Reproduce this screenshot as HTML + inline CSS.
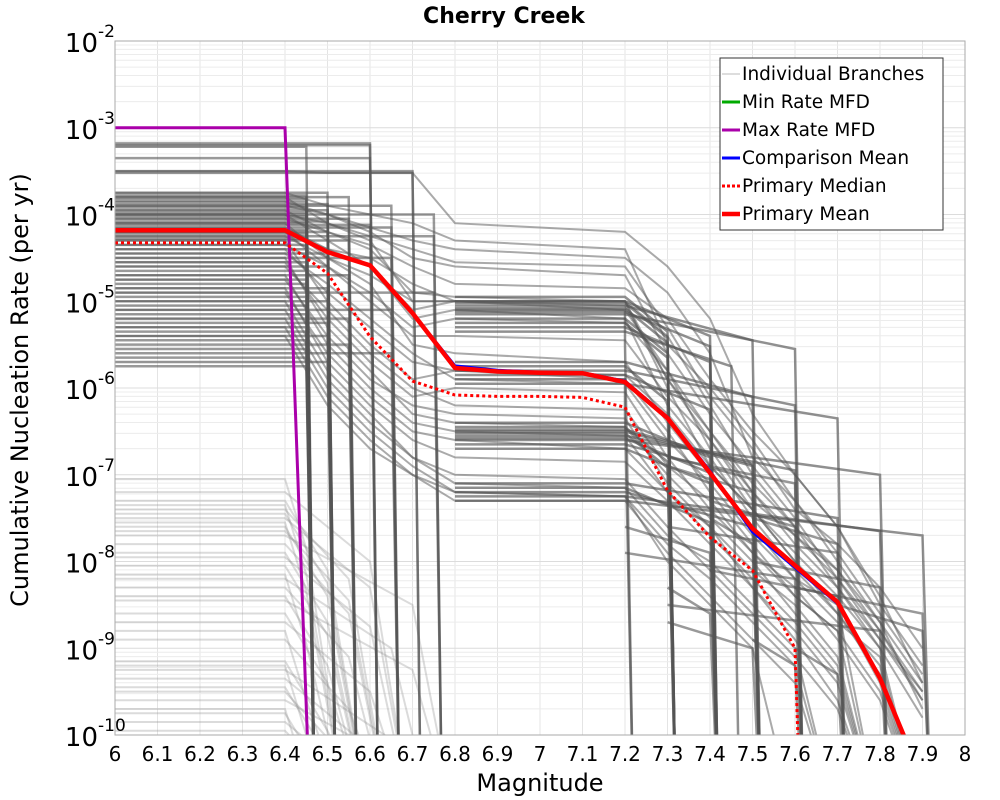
<!DOCTYPE html>
<html><head><meta charset="utf-8">
<style>
html,body{margin:0;padding:0;background:#fff;width:1000px;height:800px;overflow:hidden;}
svg{display:block;}
svg text{font-family:"DejaVu Sans","Liberation Sans",sans-serif;}
</style></head>
<body>
<svg id="chart" width="1000" height="800" viewBox="0 0 1000 800" xmlns="http://www.w3.org/2000/svg">
<defs><clipPath id="plotclip"><rect x="115" y="41" width="850" height="694"/></clipPath></defs>
<rect x="0" y="0" width="1000" height="800" fill="#fff"/>
<text x="504" y="23" text-anchor="middle" font-size="22" font-weight="bold">Cherry Creek</text>
<g id="grid"></g>
<g id="branches" clip-path="url(#plotclip)"></g>
<g id="mainlines" clip-path="url(#plotclip)"></g>
<rect x="115" y="41" width="850" height="694" fill="none" stroke="#aaa" stroke-width="1"/>
<g id="xticks"></g>
<g id="yticks"></g>
<text x="540" y="791" text-anchor="middle" font-size="24">Magnitude</text>
<text transform="translate(28,390) rotate(-90)" text-anchor="middle" font-size="24">Cumulative Nucleation Rate (per yr)</text>
<g id="legend">
<rect x="720" y="58" width="223" height="172" fill="#fff" stroke="#333" stroke-width="1"/>
</g>
</svg>
<script>
// ---- data ----
const xTicks = [6,6.1,6.2,6.3,6.4,6.5,6.6,6.7,6.8,6.9,7,7.1,7.2,7.3,7.4,7.5,7.6,7.7,7.8,7.9,8];
const xTickLabels = ["6","6.1","6.2","6.3","6.4","6.5","6.6","6.7","6.8","6.9","7","7.1","7.2","7.3","7.4","7.5","7.6","7.7","7.8","7.9","8"];
const yTickExps = [-2,-3,-4,-5,-6,-7,-8,-9,-10];
const meanMags = [6,6.4,6.5,6.6,6.7,6.8,6.9,7,7.1,7.2,7.3,7.4,7.5,7.6,7.7,7.8,7.9];
const primaryMean = [6.6e-5,6.6e-5,3.7e-5,2.6e-5,7.3e-6,1.7e-6,1.55e-6,1.5e-6,1.48e-6,1.17e-6,4.5e-7,1.05e-7,2.4e-8,9e-9,3.4e-9,4.5e-10,3e-11];
const comparisonMean = [6.6e-5,6.6e-5,3.7e-5,2.6e-5,7.3e-6,1.8e-6,1.6e-6,1.52e-6,1.5e-6,1.2e-6,4.6e-7,1.1e-7,2.2e-8,8.5e-9,3.3e-9,4.6e-10,3e-11];
const medianMags = [6,6.4,6.5,6.6,6.7,6.8,6.9,7,7.1,7.2,7.3,7.4,7.5,7.6,7.62];
const primaryMedian = [4.7e-5,4.7e-5,2.1e-5,3.9e-6,1.2e-6,8.3e-7,8e-7,8e-7,7.8e-7,6e-7,6.6e-8,1.9e-8,7.9e-9,1e-9,1e-12];
const maxMags = [6,6.4,6.46];
const maxRate = [1e-3,1e-3,1e-11];
const minMags = [6,6.4,6.41];
const minRate = [1e-12,1e-12,1e-12];
// early-drop branches: [log10 plateau rate, drop magnitude]
const earlyDrops = [[-3.18,6.6],[-3.2,6.6],[-3.22,6.45],[-3.35,6.6],[-3.5,6.7],[-3.52,6.7],[-3.75,6.5],[-3.78,6.45],[-3.8,6.55],[-3.82,6.45],[-3.85,6.45],[-3.88,6.5],[-3.9,6.65],[-3.92,6.45],[-3.95,6.5],[-3.98,6.45],[-4.0,6.75],[-4.02,6.45],[-4.05,6.55],[-4.08,6.5],[-4.1,6.45],[-4.12,6.6],[-4.15,6.65],[-4.18,6.45],[-4.2,6.5],[-4.22,6.45],[-4.25,6.75],[-4.28,6.45],[-4.3,6.55],[-4.35,6.45],[-4.4,6.45],[-4.45,6.5],[-4.5,6.65],[-4.55,6.45],[-4.6,6.5],[-4.65,6.45],[-4.7,6.55],[-4.75,6.45],[-4.8,6.45],[-4.85,6.5],[-4.9,6.75],[-4.95,6.45],[-5.0,6.5],[-5.05,6.45],[-5.1,6.65],[-5.15,6.45],[-5.2,6.55],[-5.25,6.5],[-5.3,6.45],[-5.35,6.45],[-5.4,6.5],[-5.45,6.45],[-5.5,6.55],[-5.55,6.45],[-5.6,6.65],[-5.65,6.45],[-5.7,6.5],[-5.75,6.45]];
// low band plateaus: [log10 rate, drop magnitude]
const lowBand = [[-7.05,6.45],[-7.2,6.6],[-7.3,6.5],[-7.35,6.45],[-7.4,6.55],[-7.45,6.5],[-7.5,6.6],[-7.55,6.45],[-7.6,6.5],[-7.65,6.55],[-7.7,6.7],[-7.8,6.55],[-7.9,6.5],[-7.95,6.6],[-8.05,6.5],[-8.15,6.45],[-8.2,6.65],[-8.3,6.55],[-8.4,6.5],[-8.45,6.7],[-8.6,6.5],[-8.7,6.6],[-8.8,6.45],[-8.9,6.55],[-9.15,6.5],[-9.2,6.45],[-9.25,6.65],[-9.35,6.6],[-9.45,6.5],[-9.5,6.55],[-9.6,6.7],[-9.7,6.45],[-9.75,6.5],[-9.85,6.6],[-9.95,6.55]];
// full branches: log10 rates at these magnitudes
const branchMags = [6,6.4,6.5,6.6,6.7,6.8,7.2,7.3,7.4,7.5,7.6,7.7,7.8,7.9];
const fullBranches = [
 [-3.5,-3.5,-3.52,-3.52,-3.52,-4.1,-4.2,-4.6,-5.2,-6.3,-7.0,-7.6,-8.4,-9.4],
 [-3.75,-3.75,-3.9,-4.0,-4.1,-4.3,-4.4,-5.5,-6.0,-6.6,-7.3,-8.0,-8.7,-9.4],
 [-3.8,-3.8,-4.1,-4.3,-5.0,-5.0,-5.1,-5.8,-6.5,-7.2,-7.8,-8.3,-9.0,-11],
 [-3.9,-3.9,-4.0,-4.2,-4.5,-4.6,-4.7,-5.6,-6.3,-6.9,-7.5,-8.2,-8.8,-9.5],
 [-4.0,-4.0,-4.3,-4.6,-5.2,-5.1,-5.2,-6.2,-6.8,-7.5,-8.1,-8.6,-9.2,-11],
 [-4.1,-4.1,-4.5,-4.8,-5.5,-5.6,-5.7,-6.4,-7.0,-7.6,-8.2,-8.5,-9.4,-11],
 [-4.2,-4.2,-4.4,-4.5,-4.8,-5.0,-5.0,-5.9,-6.6,-7.3,-7.7,-8.2,-8.9,-9.6],
 [-4.3,-4.3,-5.0,-5.5,-5.9,-5.8,-5.9,-6.5,-7.2,-7.8,-8.4,-8.8,-11,-11],
 [-4.4,-4.4,-4.9,-5.3,-5.7,-5.8,-5.85,-6.3,-6.9,-7.4,-8.0,-8.6,-9.3,-11],
 [-4.5,-4.5,-5.3,-5.8,-6.3,-6.4,-6.45,-7.0,-7.5,-8.0,-8.6,-9.2,-11,-11],
 [-4.6,-4.6,-5.1,-5.6,-6.0,-6.2,-6.25,-6.9,-7.3,-7.9,-8.3,-8.9,-9.6,-11],
 [-4.7,-4.7,-5.5,-6.0,-6.4,-6.5,-6.55,-7.2,-7.6,-8.1,-8.5,-9.1,-11,-11],
 [-4.9,-4.9,-5.6,-6.1,-6.5,-6.6,-6.7,-7.2,-7.7,-8.2,-8.7,-9.3,-11,-11],
 [-5.0,-5.0,-5.8,-6.3,-6.8,-7.1,-7.15,-7.7,-8.0,-8.5,-9.0,-11,-11,-11],
 [-5.2,-5.2,-6.0,-6.5,-6.9,-7.2,-7.25,-7.8,-8.2,-8.7,-9.2,-11,-11,-11],
 [-4.25,-4.25,-4.5,-4.7,-5.0,-5.0,-5.05,-5.9,-6.5,-7.1,-7.6,-8.3,-8.9,-9.5],
 [-4.35,-4.35,-4.6,-4.9,-5.3,-5.2,-5.25,-5.8,-6.7,-7.4,-8.0,-8.5,-11,-11],
 [-4.05,-4.05,-4.2,-4.35,-4.6,-4.8,-4.85,-5.2,-5.9,-6.5,-7.0,-7.6,-8.5,-9.2],
 [-4.15,-4.15,-4.4,-4.6,-5.1,-5.0,-5.0,-6.0,-6.9,-7.4,-7.9,-8.4,-9.0,-9.8],
 [-5.4,-5.4,-6.2,-6.7,-7.0,-7.2,-7.25,-8.0,-8.5,-9.0,-11,-11,-11,-11],
 [-3.85,-3.85,-4.0,-4.15,-4.3,-4.4,-4.5,-4.9,-5.6,-6.8,-7.3,-7.9,-8.6,-9.3],
 [-3.95,-3.95,-4.2,-4.4,-4.9,-4.95,-5.0,-5.4,-6.2,-7.0,-7.6,-8.1,-8.7,-9.7],
 [-4.45,-4.45,-4.8,-5.2,-5.6,-5.9,-5.95,-6.6,-7.1,-7.7,-8.2,-8.7,-9.1,-11],
 [-4.55,-4.55,-5.2,-5.7,-6.1,-6.0,-6.05,-6.8,-7.4,-7.9,-8.4,-8.8,-9.5,-11],
 [-4.75,-4.75,-5.4,-5.9,-6.2,-6.3,-6.35,-7.1,-7.6,-8.3,-8.8,-9.4,-11,-11],
 [-4.85,-4.85,-5.7,-6.2,-6.6,-6.8,-6.85,-7.3,-7.8,-8.3,-8.9,-9.6,-11,-11],
 [-5.1,-5.1,-5.9,-6.4,-6.8,-7.0,-7.05,-7.6,-8.1,-8.6,-9.1,-9.7,-11,-11],
 [-5.3,-5.3,-6.1,-6.6,-7.0,-7.3,-7.3,-7.9,-8.4,-8.9,-9.4,-11,-11,-11],
 [-4.0,-4.0,-4.1,-4.25,-4.4,-4.55,-4.6,-5.3,-6.1,-6.7,-7.4,-7.8,-8.3,-9.0],
 [-4.2,-4.2,-4.6,-5.0,-5.4,-5.4,-5.45,-6.1,-6.6,-7.2,-7.7,-8.1,-8.8,-9.6]
];
// mid band plateaus 6.8-7.2: [log10 rate, drop magnitude]
const midBand = [[-4.95,7.3],[-5.0,7.4],[-5.02,7.3],[-5.05,7.5],[-5.08,7.3],[-5.1,7.2],[-5.12,7.4],[-5.15,7.6],[-5.2,7.3],[-5.25,7.3],[-5.3,7.4],[-5.35,7.45],[-5.7,7.5],[-5.75,7.3],[-5.8,7.6],[-5.85,7.4],[-5.9,7.2],[-5.95,7.7],[-6.4,7.4],[-6.45,7.3],[-6.48,7.5],[-6.5,7.5],[-6.52,7.3],[-6.55,7.6],[-6.58,7.4],[-6.6,7.8],[-6.65,7.5],[-6.7,7.4],[-7.1,7.7],[-7.15,7.4],[-7.2,7.5],[-7.25,7.8],[-7.3,7.9]];
// late plateaus: [start mag, end mag, log10 rate]
const lateBand = [[7.3,7.6,-6.8],[7.3,7.5,-6.9],[7.4,7.6,-7.3],[7.4,7.5,-7.5],[7.5,7.7,-7.5],[7.3,7.7,-7.6],[7.2,7.6,-7.9],[7.5,7.8,-8.0],[7.6,7.9,-8.3],[7.7,7.9,-8.5],[7.3,7.8,-8.5],[7.2,7.4,-7.6],[7.3,7.4,-8.3],[7.4,7.7,-8.1],[7.3,7.5,-8.7],[7.5,7.6,-8.9],[7.6,7.7,-9.0]];
// ---- axes ----
const X0=115, X1=965, Y0=41, Y1=735;
function xs(m){ return X0+(m-6)*(X1-X0)/2; }
function ys(l){ return Y0+(-2-l)*(Y1-Y0)/8; }
function yr(v){ return ys(Math.log10(v)); }
const NS="http://www.w3.org/2000/svg";
function mk(tag, parent, attrs){ const e=document.createElementNS(NS,tag); for(const k in attrs) e.setAttribute(k,attrs[k]); parent.appendChild(e); return e; }
const grid=document.getElementById('grid');
for(const t of xTicks){
  const l=mk('line',grid,{x1:xs(t),x2:xs(t),y1:Y0,y2:Y1,stroke:'#e4e4e4','stroke-width':1});
  
  
}
for(let d=-10; d<-2; d++){
  for(let k=1;k<10;k++){
    const y=ys(d+Math.log10(k));
    const l=mk('line',grid,{x1:X0,x2:X1,y1:y,y2:y,stroke:k==1?'#dcdcdc':'#ececec','stroke-width':1});
    
    
  }
}
const xt=document.getElementById('xticks');
xTicks.forEach((t,i)=>{
  const e=mk('text',xt,{x:xs(t),y:761,'text-anchor':'middle','font-size':20});
  e.textContent=xTickLabels[i];
  
  
});
const yt=document.getElementById('yticks');
yTickExps.forEach(ex=>{
  const y=ys(ex);
  const e=mk('text',yt,{x:98,y:y+11,'text-anchor':'end','font-size':26});
  e.textContent='10';
  
  
  const s=mk('text',yt,{x:98,y:y-4,'text-anchor':'start','font-size':17});
  s.textContent=String(ex);
  
  
});
const bg=document.getElementById('branches');
function poly(parent, pts, attrs, name){
  const p=mk('polyline',parent,Object.assign({points:pts.map(p=>p[0].toFixed(1)+','+p[1].toFixed(1)).join(' '),fill:'none'},attrs));
  
  
  return p;
}
lowBand.forEach(([l,dm])=>{
  poly(bg,[[xs(6),ys(l)],[xs(6.4),ys(l)],[xs(dm),ys(l-0.8)],[xs(dm+0.1),ys(-11)]],{stroke:'#888','stroke-opacity':0.3,'stroke-width':2},'branch-line');
});
earlyDrops.forEach(([l,dm])=>{
  poly(bg,[[xs(6),ys(l)],[xs(6.4),ys(l)],[xs(dm),ys(l)],[xs(dm+0.02),ys(-11)]],{stroke:'#555','stroke-opacity':0.6,'stroke-width':2.5},'branch-line');
});
fullBranches.forEach(b=>{
  poly(bg,b.map((l,i)=>[xs(branchMags[i]),ys(l)]),{stroke:'#555','stroke-opacity':0.5,'stroke-width':2},'branch-line');
});
midBand.forEach(([l,dm])=>{
  poly(bg,[[xs(6.8),ys(l)],[xs(7.2),ys(l)],[xs(dm),ys(l-0.4)],[xs(dm+0.02),ys(-11)]],{stroke:'#555','stroke-opacity':0.65,'stroke-width':2.5},'branch-line');
});
lateBand.forEach(([a,b,l])=>{
  poly(bg,[[xs(a),ys(l)],[xs(b),ys(l-0.3)],[xs(b+0.02),ys(-11)]],{stroke:'#555','stroke-opacity':0.6,'stroke-width':2.5},'branch-line');
});
const ml=document.getElementById('mainlines');
poly(ml,minMags.map((m,i)=>[xs(m),yr(minRate[i])]),{stroke:'#00aa00','stroke-width':3},'min-rate-mfd');
poly(ml,maxMags.map((m,i)=>[xs(m),yr(maxRate[i])]),{stroke:'#aa00aa','stroke-width':3},'max-rate-mfd');
poly(ml,comparisonMean.map((v,i)=>[xs(meanMags[i]),yr(v)]),{stroke:'#0000ff','stroke-width':3},'comparison-mean');
poly(ml,primaryMedian.map((v,i)=>[xs(medianMags[i]),yr(v)]),{stroke:'#ff0000','stroke-width':3,'stroke-dasharray':'3,3'},'primary-median');
poly(ml,primaryMean.map((v,i)=>[xs(meanMags[i]),yr(v)]),{stroke:'#ff0000','stroke-width':4.5},'primary-mean');
const legendEntries=["Individual Branches","Min Rate MFD","Max Rate MFD","Comparison Mean"," Primary Median","Primary Mean"];
const legendColors=["#bbb","#00aa00","#aa00aa","#0000ff","#ff0000","#ff0000"];
const legendWidths=[1,3,3,3,3,4.5];
const lg=document.getElementById('legend');
legendEntries.forEach((t,i)=>{
  const y=74+i*28;
  const l=mk('line',lg,{x1:722,x2:740,y1:y,y2:y,stroke:legendColors[i],'stroke-width':legendWidths[i]});
  if(i==4) l.setAttribute('stroke-dasharray','3,2');
  
  
  const e=mk('text',lg,{x:742,y:y+6,'font-size':18.5});
  e.textContent=t;
  
  
});
</script>
</body></html>
